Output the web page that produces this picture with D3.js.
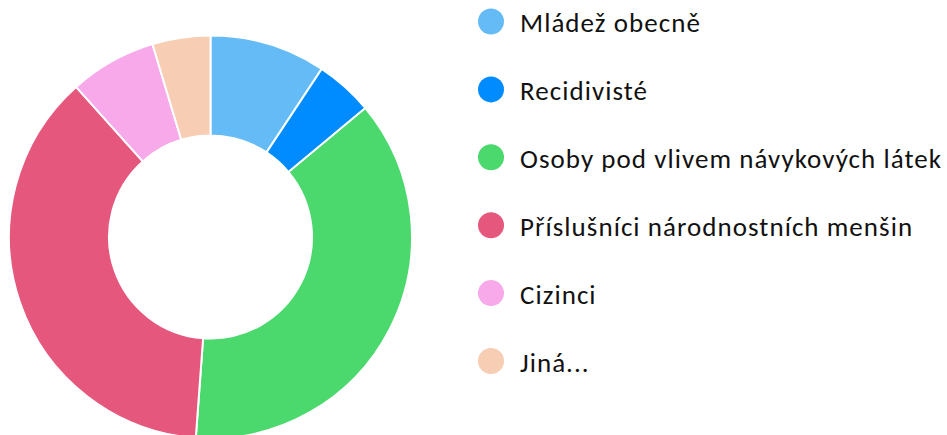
<!DOCTYPE html>
<html>
<head>
<meta charset="utf-8">
<script src="https://cdn.jsdelivr.net/npm/d3@7"></script>
<style>
  html, body { margin: 0; padding: 0; background: #fff; }
  svg { display: block; }
</style>
</head>
<body>
<div id="chart"></div>
<script>
const w = 947;
const h = 435;

// data
const categories = ['Mládež obecně', 'Recidivisté', 'Osoby pod vlivem návykových látek',
  'Příslušníci národnostních menšin', 'Cizinci', 'Jiná...'];
const values = [20, 10, 80, 80, 15, 10];
const colors = ['#64bbf6', '#008cff', '#4bd96e', '#e5577d', '#f7a9ea', '#f7cdb3'];

const cx = 210.5;
const cy = 237;
const outerR = 201.5;
const innerR = 101.5;

const legX = 491;   // circle centre
const legY0 = 21.5;
const legStep = 67.9;
const legDot = 13;
const longestW = 422; // width of the longest label in the picture

const svg = d3.select('#chart')
  .append('svg')
  .attr('width', w)
  .attr('height', h);

const pie = d3.pie().sort(null).value(d => d.value);
const arc = d3.arc().innerRadius(innerR).outerRadius(outerR);

const rows = categories.map((c, i) => ({ name: c, value: values[i], color: colors[i] }));

svg.append('g')
  .attr('transform', `translate(${cx},${cy})`)
  .selectAll('path')
  .data(pie(rows))
  .enter()
  .append('path')
  .attr('d', arc)
  .attr('fill', d => d.data.color)
  .attr('stroke', '#fff')
  .attr('stroke-width', 2);

// legend
const legend = svg.append('g').attr('id', 'legend');
const items = legend.selectAll('g')
  .data(rows)
  .enter()
  .append('g')
  .attr('transform', (d, i) => `translate(${legX},${legY0 + i * legStep})`);

items.append('circle')
  .attr('r', legDot)
  .attr('fill', d => d.color);

const labels = items.append('text')
  .attr('x', 29)
  .attr('y', 10.5)
  .style('font-family', 'Carlito, Lato, "Open Sans", sans-serif')
  .style('font-size', '27px')
  .style('fill', '#111')
  .text(d => d.name);

// widen the spacing a bit so the labels take the same room as in the original
let maxW = 0, maxN = 1;
labels.each(function(d) {
  const l = this.getComputedTextLength();
  if (l > maxW) { maxW = l; maxN = d.name.length; }
});
const ls = Math.max(0, (longestW - maxW) / maxN);
labels.style('letter-spacing', ls + 'px');
</script>
</body>
</html>
